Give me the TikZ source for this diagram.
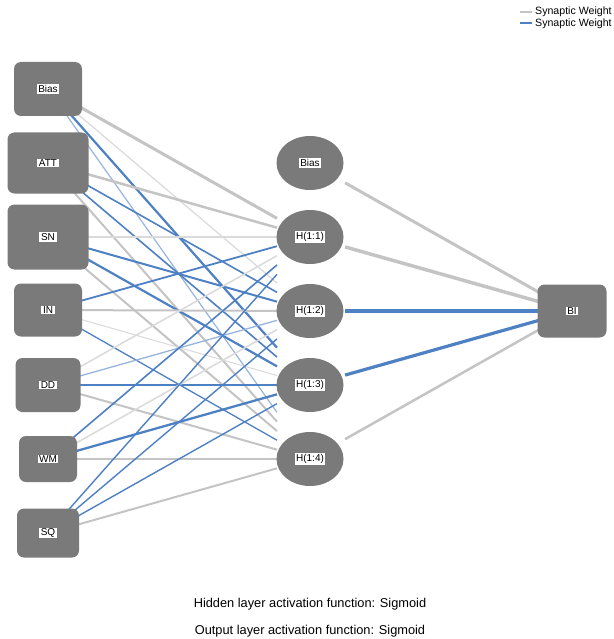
\documentclass[tikz,border=0pt]{standalone}
\usepackage{fontspec}
\setmainfont{Liberation Sans}
\usetikzlibrary{calc,backgrounds,shapes.geometric}
\definecolor{nodegray}{RGB}{122,122,122}
\definecolor{wgray}{RGB}{196,196,196}
\definecolor{lgray}{RGB}{218,218,218}
\definecolor{wblue}{RGB}{78,128,196}
\definecolor{lblue}{RGB}{150,180,222}
\begin{document}
\begin{tikzpicture}[x=1pt,y=-1pt,
  lab/.style={fill=white, text=black, inner xsep=1.6pt, inner ysep=1pt, font=\fontsize{10}{10}\selectfont},
  inbox/.style={fill=nodegray, draw=none, rounded corners=7pt, inner sep=0pt},
  hid/.style={ellipse, fill=nodegray, draw=none, minimum width=67pt, minimum height=54pt, inner sep=0pt},
  note/.style={font=\fontsize{12.8}{12.8}\selectfont, text=black},
  legtext/.style={font=\fontsize{10.6}{10.6}\selectfont, text=black, anchor=west, inner sep=0pt}]
\useasboundingbox (0,0) rectangle (613,639);
% input layer
\node[inbox, minimum width=68pt, minimum height=54pt, label={[lab]center:Bias}] (iBias) at (48,89) {};
\node[inbox, minimum width=81pt, minimum height=61pt, label={[lab]center:ATT}] (iATT) at (48,163) {};
\node[inbox, minimum width=81pt, minimum height=65pt, label={[lab]center:SN}] (iSN) at (48,237) {};
\node[inbox, minimum width=68pt, minimum height=53pt, label={[lab]center:IN}] (iIN) at (48,310) {};
\node[inbox, minimum width=65pt, minimum height=54pt, label={[lab]center:DD}] (iDD) at (48,385) {};
\node[inbox, minimum width=58pt, minimum height=46pt, label={[lab]center:WM}] (iWM) at (48,459) {};
\node[inbox, minimum width=62pt, minimum height=49pt, label={[lab]center:SQ}] (iSQ) at (48,533) {};
% hidden layer
\node[hid, label={[lab]center:Bias}] (hB) at (310,163) {};
\node[hid, label={[lab]center:H(1:1)}] (h1) at (310,237) {};
\node[hid, label={[lab]center:H(1:2)}] (h2) at (310,311) {};
\node[hid, label={[lab]center:H(1:3)}] (h3) at (310,385) {};
\node[hid, label={[lab]center:H(1:4)}] (h4) at (310,459) {};
% output
\node[inbox, minimum width=69pt, minimum height=53pt, label={[lab]center:BI}] (oBI) at (572,311) {};
% connections
\begin{scope}[on background layer]
\fill[white] (0,0) rectangle (613,639);
\foreach \s/\d/\c/\w in {
  iBias/h1/wgray/3, iBias/h2/lgray/1.2, iBias/h3/wblue/2.2, iBias/h4/lblue/1.2,
  iATT/h1/wgray/2.5, iATT/h2/wblue/1.6, iATT/h3/wblue/1.6, iATT/h4/wgray/2,
  iSN/h1/lgray/2, iSN/h2/wblue/2, iSN/h3/wblue/2.2, iSN/h4/wgray/2,
  iIN/h1/wblue/1.8, iIN/h2/wgray/2, iIN/h3/lgray/1, iIN/h4/wblue/1.3,
  iDD/h1/lgray/1.5, iDD/h2/lblue/1.3, iDD/h3/wblue/1.8, iDD/h4/wgray/2,
  iWM/h1/wblue/1.6, iWM/h2/lgray/1.5, iWM/h3/wblue/2.3, iWM/h4/wgray/2,
  iSQ/h1/wblue/1.4, iSQ/h2/wblue/1.4, iSQ/h3/wblue/1.4, iSQ/h4/wgray/2}
  \draw[\c, line width=\w pt] (\s.center) -- ($(\s.center)!0.874!(\d.center)$);
\foreach \s/\c/\w in {hB/wgray/3, h1/wgray/3.5, h2/wblue/3.5, h3/wblue/3.2, h4/wgray/2.5}
  \draw[\c, line width=\w pt] ($(\s.center)!0.134!(oBI.center)$) -- (oBI.center);
\end{scope}
% legend
\coordinate (lg1a) at (520,12); \coordinate (lg1b) at (532,12);
\coordinate (lg2a) at (520,23.5); \coordinate (lg2b) at (532,23.5);
\draw[wgray, line width=2pt] (lg1a) -- (lg1b);
\draw[wblue, line width=2pt] (lg2a) -- (lg2b);
\node[legtext] (lt1) at (535,12) {Synaptic Weight};
\node[legtext] (lt2) at (535,23.5) {Synaptic Weight};
% notes
\node[note] (n1) at (310,604) {Hidden layer activation function: Sigmoid};
\node[note] (n2) at (310,631) {Output layer activation function: Sigmoid};
\end{tikzpicture}
\end{document}
